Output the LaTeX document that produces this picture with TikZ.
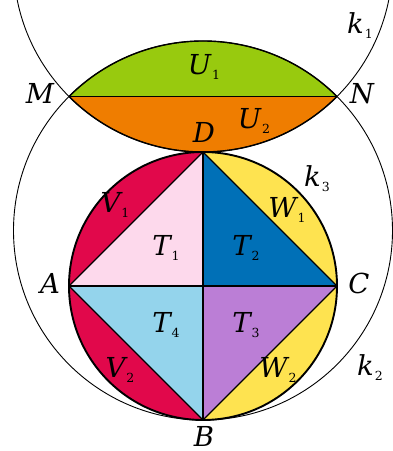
\documentclass[tikz,border=0pt]{standalone}
\usepackage{fontspec}
\setmainfont{DejaVu Serif}
\definecolor{cgreen}{HTML}{98CA0E}
\definecolor{corange}{HTML}{EF7D00}
\definecolor{cred}{HTML}{E1084B}
\definecolor{cpink}{HTML}{FDD9EC}
\definecolor{cblue}{HTML}{0070B7}
\definecolor{cyellow}{HTML}{FEE350}
\definecolor{clblue}{HTML}{94D4EC}
\definecolor{cpurple}{HTML}{BB7ED6}
\newcommand{\lab}[2]{#1\kern1pt\raisebox{-5pt}{\fontsize{12.5}{14}\selectfont\upshape #2}}
\begin{document}
\begin{tikzpicture}[x=1pt,y=1pt,line join=round,
  thinline/.style={line width=0.9pt},
  edge/.style={line width=1.4pt},
  rim/.style={line width=1.9pt},
  lbl/.style={font=\fontsize{27.5}{32}\selectfont\itshape, inner sep=0pt, anchor=base}]
\useasboundingbox (-203,-165) rectangle (190,286);
\clip (-203.5,-165.5) rectangle (190.5,286.5);
\def\R{134}
\pgfmathsetmacro\r{134*1.41421356}
\coordinate (O) at (0,0);
\coordinate (A) at (-\R,0);
\coordinate (C) at (\R,0);
\coordinate (D) at (0,\R);
\coordinate (B) at (0,-\R);
\coordinate (M) at (-\R,\r);
\coordinate (N) at (\R,\r);
\coordinate (K2) at (0,\r-\R);
\coordinate (K1) at (0,\R+\r);
% fills
\fill[cgreen] (N) arc[start angle=45,end angle=135,radius=\r] -- cycle;
\fill[corange] (M) arc[start angle=225,end angle=315,radius=\r] -- cycle;
\fill[cred] (A) arc[start angle=180,end angle=90,radius=\R] -- cycle;
\fill[cyellow] (D) arc[start angle=90,end angle=0,radius=\R] -- cycle;
\fill[cyellow] (C) arc[start angle=0,end angle=-90,radius=\R] -- cycle;
\fill[cred] (B) arc[start angle=270,end angle=180,radius=\R] -- cycle;
\fill[cpink] (A) -- (O) -- (D) -- cycle;
\fill[cblue] (D) -- (O) -- (C) -- cycle;
\fill[cpurple] (O) -- (C) -- (B) -- cycle;
\fill[clblue] (A) -- (O) -- (B) -- cycle;
% outer circles
\draw[thinline] (K2) circle[radius=\r];
\draw[thinline] (K1) ++(183:\r) arc[start angle=183,end angle=357,radius=\r];
% lens
\draw[edge] (N) arc[start angle=45,end angle=135,radius=\r];
\draw[edge] (M) arc[start angle=225,end angle=315,radius=\r];
\draw[edge] (M) -- (N);
% square and diagonals
\draw[edge] (A) -- (D) -- (C) -- (B) -- cycle;
\draw[line width=1.2pt] (A) -- (C) (D) -- (B);
\draw[rim] (O) circle[radius=\R];
% labels
\node[lbl] (lk1) at (157,253) {\lab{k}{1}};
\node[lbl] (lM) at (-163,183) {M};
\node[lbl] (lN) at (159,183) {N};
\node[lbl] (lU1) at (1,212) {\lab{U}{1}};
\node[lbl] (lU2) at (51,158) {\lab{U}{2}};
\node[lbl] (lD) at (1,144) {D};
\node[lbl] (lk3) at (114,100) {\lab{k}{3}};
\node[lbl] (lV1) at (-88,74) {\lab{V}{1}};
\node[lbl] (lW1) at (84,69) {\lab{W}{1}};
\node[lbl] (lT1) at (-37,31) {\lab{T}{1}};
\node[lbl] (lT2) at (43,31) {\lab{T}{2}};
\node[lbl] (lA) at (-153,-7) {A};
\node[lbl] (lC) at (156,-7) {C};
\node[lbl] (lT4) at (-37,-46) {\lab{T}{4}};
\node[lbl] (lT3) at (43,-46) {\lab{T}{3}};
\node[lbl] (lV2) at (-83,-91) {\lab{V}{2}};
\node[lbl] (lW2) at (75,-91) {\lab{W}{2}};
\node[lbl] (lk2) at (167,-89) {\lab{k}{2}};
\node[lbl] (lB) at (1,-160) {B};
\end{tikzpicture}
\end{document}
